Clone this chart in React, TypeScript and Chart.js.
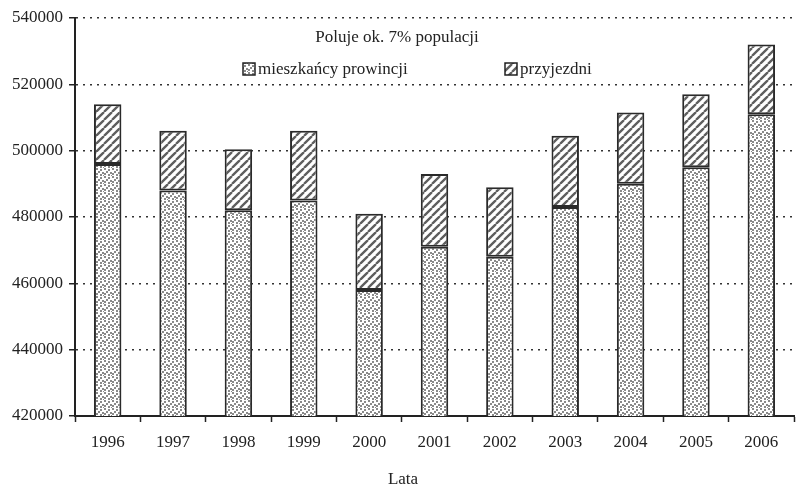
import { useEffect, useRef } from 'react';
import { Chart, registerables } from 'chart.js';

Chart.register(...registerables);

const years = ['1996', '1997', '1998', '1999', '2000', '2001', '2002', '2003', '2004', '2005', '2006'];
const residents = [496000, 488000, 482000, 485000, 458000, 471000, 468000, 483000, 490000, 495000, 511000];
const visitors = [18000, 18000, 18400, 21000, 23000, 22000, 21000, 21500, 21500, 22000, 21000];
const seriesLabels = ['mieszkańcy prowincji', 'przyjezdni'];
const chartTitle = 'Poluje ok. 7% populacji';
const xTitle = 'Lata';
const yMin = 420000;
const yMax = 540000;
const yStep = 20000;

const FONT = '"Liberation Serif", "Times New Roman", serif';

function makeStipple(ctx: CanvasRenderingContext2D): CanvasPattern | string {
  const s = 8;
  const c = document.createElement('canvas');
  c.width = s;
  c.height = s;
  const g = c.getContext('2d');
  if (!g) return '#ccc';
  g.fillStyle = '#ffffff';
  g.fillRect(0, 0, s, s);
  g.fillStyle = '#8a8a8a';
  const dots = [
    [0, 0], [4, 1], [2, 3], [6, 4], [0, 5], [4, 6], [7, 7],
  ];
  dots.forEach(([x, y]) => g.fillRect(x, y, 2, 2));
  return ctx.createPattern(c, 'repeat') || '#ccc';
}

function makeHatch(ctx: CanvasRenderingContext2D): CanvasPattern | string {
  const s = 8;
  const c = document.createElement('canvas');
  c.width = s;
  c.height = s;
  const g = c.getContext('2d');
  if (!g) return '#999';
  g.fillStyle = '#ffffff';
  g.fillRect(0, 0, s, s);
  g.strokeStyle = '#5e5e5e';
  g.lineWidth = 2.3;
  g.beginPath();
  for (let k = -1; k <= 1; k++) {
    g.moveTo(k * s, s);
    g.lineTo(k * s + s, 0);
  }
  g.stroke();
  return ctx.createPattern(c, 'repeat') || '#999';
}

export default function App() {
  const ref = useRef<HTMLCanvasElement | null>(null);

  useEffect(() => {
    const canvas = ref.current;
    if (!canvas) return;
    const ctx = canvas.getContext('2d');
    if (!ctx) return;
    const stipple = makeStipple(ctx);
    const hatch = makeHatch(ctx);

    const overlay = {
      id: 'overlay',
      afterDraw(chart: any) {
        const c = chart.ctx as CanvasRenderingContext2D;
        const area = chart.chartArea;
        c.save();
        c.fillStyle = '#222';
        c.font = `17px ${FONT}`;
        c.textBaseline = 'middle';
        c.textAlign = 'center';
        c.fillText(chartTitle, area.left + 322, area.top + 20);
        c.fillText(xTitle, area.left + 328, 480);
        c.textAlign = 'left';
        const ly = area.top + 51;
        const items = [
          { x: area.left + 168, fill: stipple, text: seriesLabels[0] },
          { x: area.left + 430, fill: hatch, text: seriesLabels[1] },
        ];
        items.forEach((it) => {
          c.fillStyle = it.fill as any;
          c.fillRect(it.x, ly - 6, 12, 12);
          c.strokeStyle = '#222';
          c.lineWidth = 1.5;
          c.strokeRect(it.x, ly - 6, 12, 12);
          c.fillStyle = '#222';
          c.fillText(it.text, it.x + 15, ly + 1);
        });
        c.restore();
      },
    };

    const chart = new Chart(canvas, {
      type: 'bar',
      data: {
        labels: years,
        datasets: [
          {
            label: seriesLabels[0],
            data: residents,
            backgroundColor: stipple as any,
            borderColor: '#2a2a2a',
            borderWidth: 2,
            borderSkipped: false,
            barPercentage: 0.42,
            categoryPercentage: 1,
          },
          {
            label: seriesLabels[1],
            data: visitors,
            backgroundColor: hatch as any,
            borderColor: '#2a2a2a',
            borderWidth: 2,
            borderSkipped: false,
            barPercentage: 0.42,
            categoryPercentage: 1,
          },
        ],
      },
      options: {
        animation: false,
        responsive: false,
        maintainAspectRatio: false,
        layout: { padding: { left: 0, right: 5, top: 18, bottom: 0 } },
        plugins: {
          legend: { display: false },
          title: { display: false },
          tooltip: { enabled: false },
        },
        scales: {
          x: {
            stacked: true,
            offset: true,
            grid: {
              display: true,
              drawOnChartArea: false,
              drawTicks: true,
              tickLength: 6,
              tickColor: '#222',
              tickWidth: 1.5,
              offset: true,
            },
            border: { display: true, color: '#222', width: 2 },
            ticks: {
              color: '#222',
              font: { family: FONT, size: 17 },
              padding: 10,
              maxRotation: 0,
            },
            afterFit(scale: any) {
              scale.height = 72;
            },
          },
          y: {
            stacked: true,
            min: yMin,
            max: yMax,
            grid: {
              color: '#333',
              lineWidth: 1.5,
              drawTicks: true,
              tickLength: 6,
              tickColor: '#222',
              tickWidth: 1.5,
            },
            border: { display: true, color: '#222', width: 2, dash: [2, 5] },
            ticks: {
              stepSize: yStep,
              color: '#222',
              font: { family: FONT, size: 17 },
              padding: 6,
              callback: (v: any) => String(v),
            },
            afterFit(scale: any) {
              scale.width = 75;
            },
          },
        },
      },
      plugins: [overlay],
    });
    return () => chart.destroy();
  }, []);

  return (
    <div style={{ position: 'fixed', left: 0, top: 0, width: 799, height: 488, background: '#fff' }}>
      <canvas ref={ref} width={799} height={488} style={{ width: 799, height: 488 }} />
    </div>
  );
}
